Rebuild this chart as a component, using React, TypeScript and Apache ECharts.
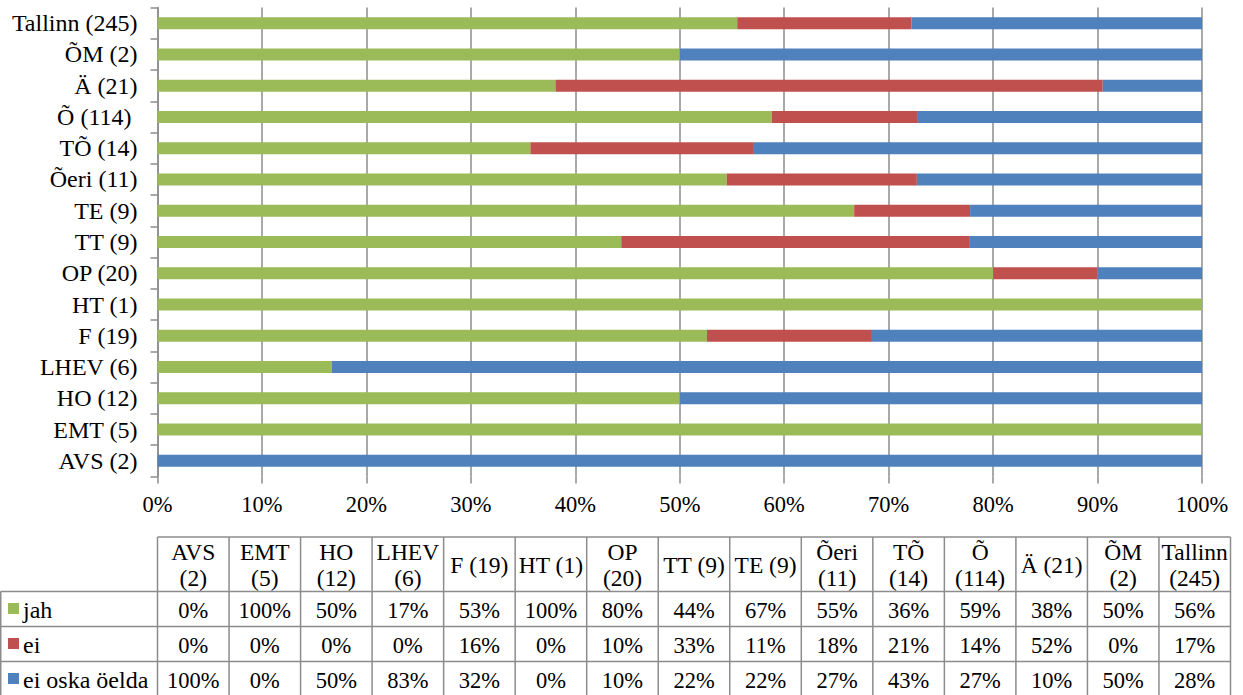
import React, { useEffect, useRef } from 'react';
import * as echarts from 'echarts';

// Categories (bottom to top on the chart, left to right in the table)
const categories = ['AVS (2)', 'EMT (5)', 'HO (12)', 'LHEV (6)', 'F (19)', 'HT (1)', 'OP (20)', 'TT (9)', 'TE (9)', 'Õeri (11)', 'TÕ (14)', 'Õ (114) ', 'Ä (21)', 'ÕM (2)', 'Tallinn (245)'];
const tableHeaders = ['AVS\n(2)', 'EMT\n(5)', 'HO\n(12)', 'LHEV\n(6)', 'F (19)', 'HT (1)', 'OP\n(20)', 'TT (9)', 'TE (9)', 'Õeri\n(11)', 'TÕ\n(14)', 'Õ\n(114)', 'Ä (21)', 'ÕM\n(2)', 'Tallinn\n(245)'];
const seriesNames = ['jah', 'ei', 'ei oska öelda'];
const jah = [0, 100, 50, 16.7, 52.6, 100, 80, 44.4, 66.7, 54.5, 35.7, 58.8, 38.1, 50, 55.5];
const ei = [0, 0, 0, 0, 15.8, 0, 10, 33.3, 11.1, 18.2, 21.4, 14.0, 52.4, 0, 16.7];
const eiOska = [100, 0, 50, 83.3, 31.6, 0, 10, 22.3, 22.2, 27.3, 42.9, 27.2, 9.5, 50, 27.8];
const xTicks = [0, 10, 20, 30, 40, 50, 60, 70, 80, 90, 100];

const colors = ['#9BBB59', '#C0504D', '#4F81BD'];
const FONT = 'Liberation Serif';
const GRID_COLOR = '#8c8c8c';

export default function App() {
  const ref = useRef<HTMLDivElement>(null);
  useEffect(() => {
    if (!ref.current) return;
    const chart = echarts.init(ref.current, null, { renderer: 'svg' });
    const allSeries = [jah, ei, eiOska];

    // Table layout
    const tLeft = 157.5;
    const tRight = 1230.5;
    const colW = (tRight - tLeft) / categories.length;
    const headTop = 537;
    const rowTops = [591.5, 626.5, 661.5];
    const rowH = 35;
    const lineStyle = { stroke: GRID_COLOR, lineWidth: 1.5 };
    const txt = (size: number, extra: any) => ({ fontFamily: FONT, fontSize: size, fill: '#000', ...extra });
    const graphics: any[] = [];
    graphics.push({ type: 'line', shape: { x1: tLeft, y1: headTop, x2: tRight, y2: headTop }, style: lineStyle, silent: true });
    rowTops.forEach((y) => {
      graphics.push({ type: 'line', shape: { x1: 0.5, y1: y, x2: tRight, y2: y }, style: lineStyle, silent: true });
    });
    graphics.push({ type: 'line', shape: { x1: 0.5, y1: rowTops[2] + rowH, x2: tRight, y2: rowTops[2] + rowH }, style: lineStyle, silent: true });
    graphics.push({ type: 'line', shape: { x1: 0.75, y1: rowTops[0], x2: 0.75, y2: 700 }, style: lineStyle, silent: true });
    for (let i = 0; i <= categories.length; i++) {
      const x = tLeft + i * colW;
      graphics.push({ type: 'line', shape: { x1: x, y1: headTop, x2: x, y2: 700 }, style: lineStyle, silent: true });
    }
    tableHeaders.forEach((h, i) => {
      graphics.push({
        type: 'text',
        x: tLeft + (i + 0.5) * colW,
        y: (headTop + rowTops[0]) / 2 + 1,
        style: txt(23.5, { text: h, align: 'center', verticalAlign: 'middle', lineHeight: 26 }),
        silent: true,
      });
    });
    seriesNames.forEach((name, r) => {
      const cy = rowTops[r] + rowH / 2;
      graphics.push({ type: 'rect', shape: { x: 8, y: cy - 6, width: 11, height: 11 }, style: { fill: colors[r] }, silent: true });
      graphics.push({
        type: 'text', x: 23, y: cy + 1,
        style: txt(24, { text: name, align: 'left', verticalAlign: 'middle' }),
        silent: true,
      });
      allSeries[r].forEach((v, i) => {
        graphics.push({
          type: 'text', x: tLeft + (i + 0.5) * colW, y: cy + 1,
          style: txt(22.5, { text: `${Math.round(v)}%`, align: 'center', verticalAlign: 'middle' }),
          silent: true,
        });
      });
    });

    chart.setOption({
      animation: false,
      backgroundColor: '#ffffff',
      grid: { left: 157.5, right: 41, top: 7.5, bottom: 218.5, containLabel: false },
      xAxis: {
        type: 'value',
        min: xTicks[0],
        max: xTicks[xTicks.length - 1],
        interval: xTicks[1] - xTicks[0],
        axisLine: { show: false },
        axisTick: { show: true, length: 7, lineStyle: { color: GRID_COLOR, width: 1.5 } },
        splitLine: { show: true, lineStyle: { color: GRID_COLOR, width: 1.5 } },
        axisLabel: { formatter: '{value}%', color: '#000', fontFamily: FONT, fontSize: 22.5, margin: 16 },
      },
      yAxis: {
        type: 'category',
        data: categories,
        axisLine: { show: true, lineStyle: { color: GRID_COLOR, width: 1.5 } },
        axisTick: { show: true, length: 7, lineStyle: { color: GRID_COLOR, width: 1.5 } },
        axisLabel: { color: '#000', fontFamily: FONT, fontSize: 24, margin: 20 },
        splitLine: { show: false },
      },
      series: allSeries.map((d, i) => ({
        type: 'bar',
        name: seriesNames[i],
        stack: 'total',
        data: d,
        barWidth: 12,
        itemStyle: { color: colors[i] },
      })),
      graphic: graphics,
    });
    return () => chart.dispose();
  }, []);
  return <div ref={ref} style={{ position: 'absolute', left: 0, top: 0, width: 1243, height: 695 }} />;
}
